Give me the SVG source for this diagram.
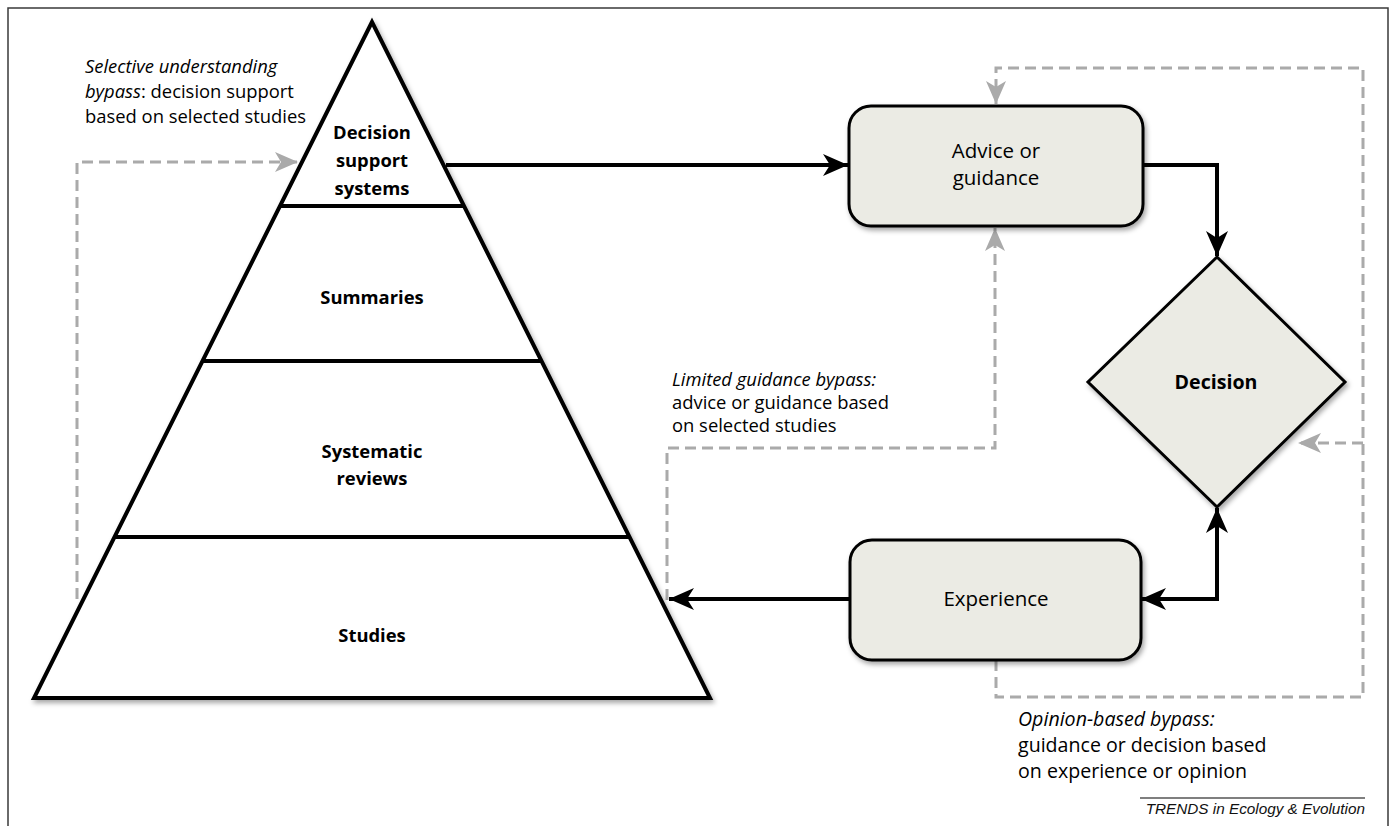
<svg xmlns="http://www.w3.org/2000/svg" width="1396" height="826" viewBox="0 0 1396 826">
<style>
.frame{fill:none;stroke:#3a3a3a;stroke-width:1.5}
.pyr{fill:#fff;stroke:#000;stroke-width:4;stroke-linejoin:miter}
.div{stroke:#000;stroke-width:4}
.box{fill:#ebebe4;stroke:#000;stroke-width:3}
.conn{fill:none;stroke:#000;stroke-width:4}
.dash{fill:none;stroke:#aaaaaa;stroke-width:3;stroke-dasharray:11 6}
.lbl{font-family:"Open Sans","Liberation Sans",sans-serif;fill:#000}
.bold{font-weight:bold;font-size:18.4px}
.node{font-size:20.5px}
.note{font-size:18.4px}
.note2{font-size:19.6px}
.it{font-style:italic}
.foot{font-family:"Liberation Sans",Arial,sans-serif;font-style:italic;font-size:15.3px;fill:#111}
</style>
<defs>
<filter id="sh" x="-10%" y="-10%" width="125%" height="125%">
<feDropShadow dx="2" dy="3" stdDeviation="2.5" flood-color="#000" flood-opacity="0.35"/>
</filter>
<marker id="ab" markerUnits="userSpaceOnUse" markerWidth="26" markerHeight="24" viewBox="0 0 26 24" refX="25" refY="12" orient="auto-start-reverse">
<path d="M0,1 L25,12 L0,23 L7,12 z" fill="#000"/>
</marker>
<marker id="ag" markerUnits="userSpaceOnUse" markerWidth="24" markerHeight="22" viewBox="0 0 24 22" refX="23" refY="11" orient="auto">
<path d="M0,1 L23,11 L0,21 L6,11 z" fill="#aaaaaa"/>
</marker>
</defs>
<rect width="1396" height="826" fill="#fff"/>
<path class="frame" d="M8,830 V8 H1388 V830"/>

<g id="connectors">
<path class="dash" d="M77,599 V162 H298" marker-end="url(#ag)"/>
<path class="dash" d="M667,600 V448 H995 V228" marker-end="url(#ag)"/>
<path class="dash" d="M996,660 V697 H1363 V68 H996 V104" marker-end="url(#ag)"/>
<path class="dash" d="M1363,443 H1298" marker-end="url(#ag)"/>
<path class="conn" d="M446,165 H848" marker-end="url(#ab)"/>
<path class="conn" d="M1143,165 H1217 V256" marker-end="url(#ab)"/>
<path class="conn" d="M1141,599 H1217 V508" marker-start="url(#ab)" marker-end="url(#ab)"/>
<path class="conn" d="M850,599 H669" marker-end="url(#ab)"/>
</g>

<g id="pyramid">
<polygon class="pyr" points="372,22 34,698 710,698" filter="url(#sh)"/>
<line class="div" x1="281" y1="206" x2="463" y2="206"/>
<line class="div" x1="203" y1="361" x2="541" y2="361"/>
<line class="div" x1="115" y1="537" x2="629" y2="537"/>
</g>
<g id="dss">
<text class="lbl bold" text-anchor="middle" x="372" y="139">Decision</text>
<text class="lbl bold" text-anchor="middle" x="372" y="167">support</text>
<text class="lbl bold" text-anchor="middle" x="372" y="195">systems</text>
</g>
<g id="summaries">
<text class="lbl bold" text-anchor="middle" x="372" y="304">Summaries</text>
</g>
<g id="systematic">
<text class="lbl bold" text-anchor="middle" x="372" y="458">Systematic</text>
<text class="lbl bold" text-anchor="middle" x="372" y="485">reviews</text>
</g>
<g id="studies">
<text class="lbl bold" text-anchor="middle" x="372" y="642">Studies</text>
</g>

<g id="advice">
<rect class="box" x="849" y="106" width="294" height="120" rx="22" filter="url(#sh)"/>
<text class="lbl node" text-anchor="middle" x="996" y="158">Advice or</text>
<text class="lbl node" text-anchor="middle" x="996" y="185">guidance</text>
</g>
<g id="decision">
<polygon class="box" points="1217,257 1345,382 1217,507 1088,382" filter="url(#sh)"/>
<text class="lbl" text-anchor="middle" x="1216" y="389" font-weight="bold" font-size="19.6">Decision</text>
</g>
<g id="experience">
<rect class="box" x="850" y="540" width="291" height="120" rx="22" filter="url(#sh)"/>
<text class="lbl node" text-anchor="middle" x="996" y="606">Experience</text>
</g>

<g id="note-selective">
<text class="lbl note" x="85" y="73"><tspan class="it">Selective understanding</tspan></text>
<text class="lbl note" x="85" y="98"><tspan class="it">bypass</tspan>: decision support</text>
<text class="lbl note" x="85" y="123">based on selected studies</text>
</g>
<g id="note-limited">
<text class="lbl note it" x="672" y="386">Limited guidance bypass:</text>
<text class="lbl note" x="672" y="409">advice or guidance based</text>
<text class="lbl note" x="672" y="432">on selected studies</text>
</g>
<g id="note-opinion">
<text class="lbl note2 it" x="1018" y="726">Opinion-based bypass:</text>
<text class="lbl note2" x="1018" y="752">guidance or decision based</text>
<text class="lbl note2" x="1018" y="778">on experience or opinion</text>
</g>
<g id="footer">
<line x1="1140" y1="798" x2="1365" y2="798" stroke="#555" stroke-width="1.5"/>
<text class="foot" text-anchor="end" x="1365" y="814">TRENDS in Ecology &amp; Evolution</text>
</g>
</svg>
